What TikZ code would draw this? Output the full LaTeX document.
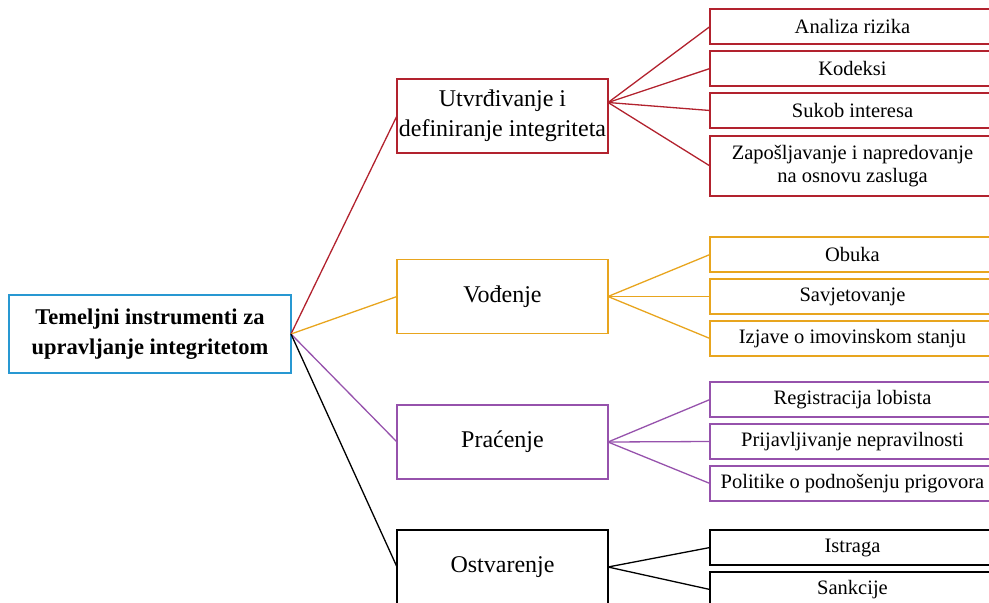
\documentclass[tikz,border=0pt]{standalone}
\usepackage{fontspec}
\setmainfont{Liberation Serif}
\usetikzlibrary{positioning,calc}
\definecolor{utvred}{RGB}{178,34,46}
\definecolor{vodorange}{RGB}{232,165,30}
\definecolor{pracpurple}{RGB}{150,82,172}
\definecolor{rootblue}{RGB}{40,152,210}

\begin{document}
\begin{tikzpicture}[x=1pt,y=-1pt,every node/.style={outer sep=0pt},line width=1.3pt,
 box/.style={draw,line width=1.5pt,fill=white,align=center,inner sep=2pt},
 topbox/.style={box,minimum width=282pt,minimum height=78pt,
 font=\fontsize{22.5}{30}\selectfont\bfseries},
 midbox/.style={box,minimum width=211pt,minimum height=74pt,
 font=\fontsize{24}{30}\selectfont},
 leafbox/.style={box,minimum width=285pt,minimum height=35pt,
 font=\fontsize{20.5}{23}\selectfont}]

 \useasboundingbox (0,0) rectangle (989,603);
 \clip (0,0) rectangle (989,603);

  \node[topbox,draw=rootblue] (root) at (150,334) {Temeljni instrumenti za\\upravljanje integritetom};

  \node[midbox,draw=utvred] (ut) at (502.5,116) {Utvrđivanje i\\definiranje integriteta};
  \node[midbox,draw=vodorange] (vo) at (502.5,296.5) {Vođenje};
  \node[midbox,draw=pracpurple] (pr) at (502.5,442) {Praćenje};
  \node[midbox,draw=black] (os) at (502.5,567) {Ostvarenje};

  \node[leafbox,draw=utvred] (a1) at (852.5,26.5) {Analiza rizika};
  \node[leafbox,draw=utvred,below=7pt of a1] (a2) {Kodeksi};
  \node[leafbox,draw=utvred,below=7pt of a2] (a3) {Sukob interesa};
  \node[leafbox,draw=utvred,below=8pt of a3,minimum height=60pt] (a4) {Zapošljavanje i napredovanje\\na osnovu zasluga};

  \node[leafbox,draw=vodorange] (b1) at (852.5,254.5) {Obuka};
  \node[leafbox,draw=vodorange,below=7pt of b1] (b2) {Savjetovanje};
  \node[leafbox,draw=vodorange,below=7pt of b2] (b3) {Izjave o imovinskom stanju};

  \node[leafbox,draw=pracpurple] (c1) at (852.5,399.5) {Registracija lobista};
  \node[leafbox,draw=pracpurple,below=7pt of c1] (c2) {Prijavljivanje nepravilnosti};
  \node[leafbox,draw=pracpurple,below=7pt of c2] (c3) {Politike o podnošenju prigovora};

  \node[leafbox,draw=black] (d1) at (852.5,547.5) {Istraga};
  \node[leafbox,draw=black,below=7pt of d1] (d2) {Sankcije};

  \draw[utvred] (root.east) -- (ut.west);
  \draw[vodorange] (root.east) -- (vo.west);
  \draw[pracpurple] (root.east) -- (pr.west);
  \draw (root.east) -- (os.west);

  \path (a1.north) -- (a4.south) coordinate[midway] (aux1);
  \foreach \X in {a1,a2,a3,a4}
   \draw[utvred] (ut.east|-aux1) -- (\X.west);
  \foreach \X in {b1,b2,b3}
   \draw[vodorange] (vo.east) -- (\X.west);
  \foreach \X in {c1,c2,c3}
   \draw[pracpurple] (pr.east) -- (\X.west);
  \foreach \X in {d1,d2}
   \draw (os.east) -- (\X.west);

\end{tikzpicture}
\end{document}
